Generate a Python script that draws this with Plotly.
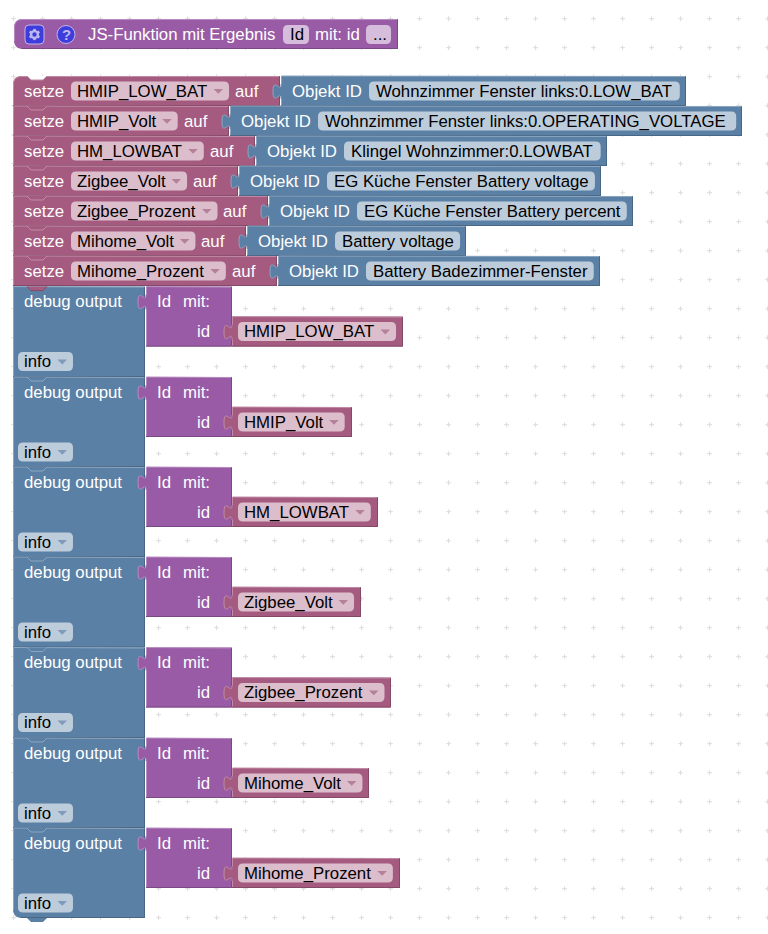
import numpy as np
import plotly.graph_objects as go

# ---- content ----
variable_names = ["HMIP_LOW_BAT", "HMIP_Volt", "HM_LOWBAT", "Zigbee_Volt",
                  "Zigbee_Prozent", "Mihome_Volt", "Mihome_Prozent"]
object_ids = ["Wohnzimmer Fenster links:0.LOW_BAT",
              "Wohnzimmer Fenster links:0.OPERATING_VOLTAGE",
              "Klingel Wohnzimmer:0.LOWBAT",
              "EG Küche Fenster Battery voltage",
              "EG Küche Fenster Battery percent",
              "Battery voltage",
              "Battery Badezimmer-Fenster"]
debug_tops = [286.6, 377, 467, 557, 647.5, 738, 828]

# ---- styling ----
FONT = "Liberation Sans"
FS = 16.8
RED, RED_L, RED_D, RED_P, RED_A = "#A55B80", "#C08CA6", "#844966", "#DBBDCC", "#B5809A"
BLUE, BLUE_L, BLUE_D, BLUE_P, BLUE_A = "#5B80A5", "#8CA6C0", "#496684", "#BDCCDB", "#809ABA"
PUR, PUR_L, PUR_D, PUR_P = "#995BA5", "#B88CC0", "#7A4984", "#D6BDDB"
ICON = "#3D3DDD"
ICON_FG = "#BDB8F0"

AFM = dict(zip("ABCDEFGHIJKLMNOPQRSTUVWXYZ",
               [667,667,722,722,667,611,778,722,278,500,667,556,833,722,778,667,778,722,667,611,722,667,944,667,667,611]))
AFM.update(zip("abcdefghijklmnopqrstuvwxyz",
               [556,556,500,556,556,278,556,556,222,222,500,222,833,556,556,556,556,333,500,278,556,500,722,500,500,500]))
AFM.update({" ": 278, ".": 278, ":": 278, "_": 556, "-": 333, "ü": 556})
AFM.update({str(d): 556 for d in range(10)})


def tw(s):
    return sum(AFM[c] for c in s) * FS / 1000 + (1.5 if "Prozent" in s else 0)


shapes, annos = [], []


def text(x, y, s, color="white", size=FS, anchor="left", family=FONT):
    annos.append(dict(x=x, y=y, text=s, showarrow=False, xanchor=anchor, yanchor="middle",
                      borderpad=0, borderwidth=0, font=dict(family=family, size=size, color=color)))


def path(d, fill=None, line=None, w=1):
    s = dict(type="path", path=d, xref="x", yref="y", line=dict(width=w if line else 0, color=line or "rgba(0,0,0,0)"))
    if fill:
        s["fillcolor"] = fill
    shapes.append(s)


def block(x0, y0, x1, y1, fill, light, dark, tl=0, bl=0):
    k = 0.45
    d = f"M{x0},{y0+tl} "
    if tl:
        d += f"C{x0},{y0+tl*k} {x0+tl*k},{y0} {x0+tl},{y0} "
    d += f"L{x1},{y0} L{x1},{y1} L{x0+bl},{y1} "
    if bl:
        d += f"C{x0+bl*k},{y1} {x0},{y1-bl*k} {x0},{y1-bl} "
    path(d + "Z", fill=fill)
    # bevel edges
    path(f"M{x0+0.5},{y1-bl} L{x0+0.5},{y0+tl} " + (f"C{x0+0.5},{y0+tl*k} {x0+tl*k},{y0+0.5} {x0+tl},{y0+0.5} " if tl else "") + f"L{x1-0.5},{y0+0.5}", line=light)
    path(f"M{x1-0.5},{y0+0.5} L{x1-0.5},{y1-0.5} L{x0+bl},{y1-0.5}", line=dark)


def pill(x0, cy, w, fill, h=19, r=5, line=None):
    x1, y0, y1 = x0 + w, cy - h / 2, cy + h / 2
    path(f"M{x0+r},{y0} L{x1-r},{y0} Q{x1},{y0} {x1},{y0+r} L{x1},{y1-r} Q{x1},{y1} {x1-r},{y1} "
         f"L{x0+r},{y1} Q{x0},{y1} {x0},{y1-r} L{x0},{y0+r} Q{x0},{y0} {x0+r},{y0} Z", fill=fill, line=line)


def arrow(x1, cy, color):
    path(f"M{x1-15.5},{cy-2} L{x1-6},{cy-2} L{x1-10.7},{cy+2.8} Z", fill=color)


def dropdown(x0, cy, s, fill, arrow_col, extra=0):
    w = tw(s) + 26.4 + extra
    pill(x0, cy, w, fill)
    arrow(x0 + w, cy, arrow_col)
    text(x0 + 6.3, cy, s, color="black")
    return x0 + w


def puzzle(X, top, fill, edge):
    yb = top + 23
    d = (f"M{X+1},{yb} L{X},{yb} C{X},{yb-10} {X-8},{yb+8} {X-8},{yb-7.5} "
         f"C{X-8},{yb-23} {X},{yb-5} {X},{yb-15} L{X+1},{yb-15} Z")
    path(d, fill=fill)
    path(f"M{X},{yb} C{X},{yb-10} {X-8},{yb+8} {X-8},{yb-7.5} C{X-8},{yb-23} {X},{yb-5} {X},{yb-15}", line=edge)


def notch(y, fill, edge, x=13):
    path(f"M{x+14},{y} L{x+18},{y+4} L{x+30},{y+4} L{x+34},{y} Z", fill=fill)
    path(f"M{x+14},{y} L{x+18},{y+4} L{x+30},{y+4} L{x+34},{y}", line=edge)


def gear(cx, cy):
    for a in np.deg2rad([30, 90, 150, 210, 270, 330]):
        c, s = np.cos(a), np.sin(a)
        path(f"M{cx+3*c:.2f},{cy+3*s:.2f} L{cx+5.6*c:.2f},{cy+5.6*s:.2f}", line=ICON_FG, w=2.6)
    shapes.append(dict(type="circle", x0=cx - 3.4, x1=cx + 3.4, y0=cy - 3.4, y1=cy + 3.4, xref="x", yref="y",
                       fillcolor=ICON, line=dict(color=ICON_FG, width=2.4)))


# ---- function header block ----
block(14, 19, 398, 49, PUR, PUR_L, PUR_D, tl=8, bl=8)
pill(25, 34.5, 19, ICON, h=19, r=4, line="#C3B4E8")
gear(34.5, 34.5)
shapes.append(dict(type="circle", x0=57, x1=75, y0=25.5, y1=43.5, xref="x", yref="y",
                   fillcolor=ICON, line=dict(color="#C3B4E8", width=1)))
text(66, 34.5, "<b>?</b>", color=ICON_FG, size=15, anchor="center")
text(88, 34.5, "JS-Funktion mit Ergebnis")
pill(283, 34.5, tw("Id") + 12, PUR_P)
text(289.5, 34.5, "Id", color="black")
text(315, 34.5, "mit: id")
pill(366, 34.5, 25, PUR_P)
text(372.5, 34.5, "...", color="black")

# ---- "setze" rows ----
for i, (name, oid) in enumerate(zip(variable_names, object_ids)):
    top = 76 + 30 * i
    cy = top + 15
    x_pill_end = 71 + tw(name) + 26.4
    x_auf = x_pill_end + 6
    x_end = round(x_auf + tw("auf") + 21.6)
    block(13, top, x_end, top + 30, RED, RED_L, RED_D, tl=8 if i == 0 else 0)
    if i == 0:
        path(f"M27,{top} L31,{top+4} L43,{top+4} L47,{top} Z", fill="white")
        path(f"M27,{top} L31,{top+4} L43,{top+4} L47,{top}", line=RED_L)
    else:
        notch(top, RED, RED_L)
    text(24, cy, "setze")
    dropdown(71, cy, name, RED_P, RED_A)
    text(x_auf, cy, "auf")
    bx0 = x_end + 1
    pw = tw(oid) + 13
    px0 = bx0 + 88
    block(bx0, top, round(px0 + pw + 6), top + 30, BLUE, BLUE_L, BLUE_D)
    puzzle(bx0, top, BLUE, BLUE_L)
    text(bx0 + 10.7, cy, "Objekt ID")
    pill(px0, cy, pw, BLUE_P)
    text(px0 + 6.5, cy, oid, color="black")

# ---- "debug output" blocks ----
for i, (top, name) in enumerate(zip(debug_tops, variable_names)):
    bottom = debug_tops[i + 1] if i + 1 < len(debug_tops) else top + 90
    last = i == len(debug_tops) - 1
    block(13, top, 145, bottom, BLUE, BLUE_L, BLUE_D, bl=8 if last else 0)
    if i == 0:
        notch(top, RED, RED_D)
    else:
        notch(top, BLUE, BLUE_L)
    if last:
        path(f"M27,{bottom} L31,{bottom+4} L43,{bottom+4} L47,{bottom} Z", fill=BLUE)
    block(146, top, 232, top + 60, PUR, PUR_L, PUR_D)
    puzzle(146, top, PUR, PUR_L)
    w = tw(name) + 26.4
    block(232, top + 30, round(238 + w + 7), top + 60, RED, RED_L, RED_D)
    puzzle(232, top + 30, RED, RED_L)
    text(24, top + 15, "debug output")
    text(157, top + 15, "Id")
    text(183, top + 15, "mit:")
    text(197, top + 45, "id")
    dropdown(238, top + 45, name, RED_P, RED_A)
    dropdown(18, top + 75, "info", BLUE_P, BLUE_A, extra=1.5)

# ---- workspace dot grid ----
gx, gy = np.meshgrid(np.arange(13.6, 768, 29), np.arange(18.7, 934, 29))
fig = go.Figure(go.Scatter(x=gx.ravel(), y=gy.ravel(), mode="markers", hoverinfo="skip",
                           marker=dict(symbol="cross-thin", size=3.5, line=dict(width=1, color="#DCDCDC"))))
fig.update_layout(width=768, height=934, margin=dict(l=0, r=0, t=0, b=0), showlegend=False,
                  paper_bgcolor="white", plot_bgcolor="white", shapes=shapes, annotations=annos,
                  xaxis=dict(range=[0, 768], visible=False, fixedrange=True),
                  yaxis=dict(range=[934, 0], visible=False, fixedrange=True))
fig.write_html("out.html", config=dict(displayModeBar=False),
               post_script="document.body.style.margin='0';document.body.style.overflow='hidden';")
